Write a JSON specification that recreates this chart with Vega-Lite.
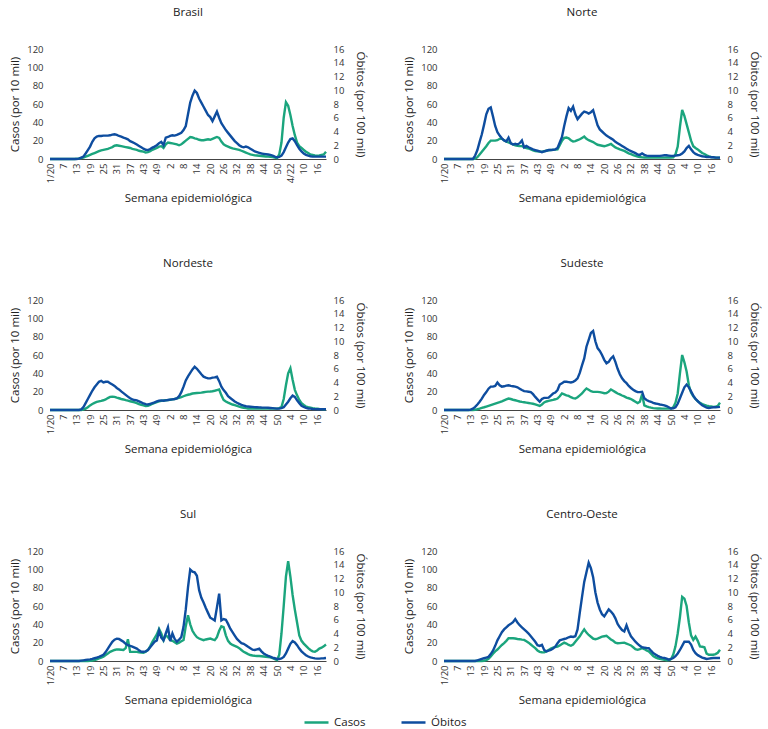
{
"$schema":"https://vega.github.io/schema/vega-lite/v6.json",
"background":"white",
"padding":{"left":9,"top":6,"right":2,"bottom":0},
"data":{"values":[
{"r":"BR","w":0,"c":0,"o":0},{"r":"BR","w":1,"c":0,"o":0},{"r":"BR","w":2,"c":0,"o":0},{"r":"BR","w":3,"c":0,"o":0},{"r":"BR","w":4,"c":0,"o":0},{"r":"BR","w":5,"c":0,"o":0},{"r":"BR","w":6,"c":0,"o":0},{"r":"BR","w":7,"c":0,"o":0},{"r":"BR","w":8,"c":0,"o":0},{"r":"BR","w":9,"c":0,"o":0},
{"r":"BR","w":10,"c":0,"o":0},{"r":"BR","w":11,"c":0,"o":0},{"r":"BR","w":12,"c":0.2,"o":0},{"r":"BR","w":13,"c":0.5,"o":0.05},{"r":"BR","w":14,"c":1,"o":0.2},{"r":"BR","w":15,"c":1.5,"o":0.35},{"r":"BR","w":16,"c":2.5,"o":0.8},{"r":"BR","w":17,"c":3.5,"o":1.3},{"r":"BR","w":18,"c":4.5,"o":1.8},{"r":"BR","w":19,"c":5.5,"o":2.5},
{"r":"BR","w":20,"c":6.5,"o":3},{"r":"BR","w":21,"c":7.5,"o":3.25},{"r":"BR","w":22,"c":8.5,"o":3.35},{"r":"BR","w":23,"c":9.5,"o":3.35},{"r":"BR","w":24,"c":10,"o":3.4},{"r":"BR","w":25,"c":10.5,"o":3.4},{"r":"BR","w":26,"c":11,"o":3.4},{"r":"BR","w":27,"c":12,"o":3.45},{"r":"BR","w":28,"c":13,"o":3.55},{"r":"BR","w":29,"c":14.5,"o":3.6},
{"r":"BR","w":30,"c":15,"o":3.5},{"r":"BR","w":31,"c":14.5,"o":3.35},{"r":"BR","w":32,"c":14,"o":3.25},{"r":"BR","w":33,"c":13.5,"o":3.1},{"r":"BR","w":34,"c":13,"o":3},{"r":"BR","w":35,"c":12.5,"o":2.85},{"r":"BR","w":36,"c":12,"o":2.6},{"r":"BR","w":37,"c":11,"o":2.45},{"r":"BR","w":38,"c":10.5,"o":2.3},{"r":"BR","w":39,"c":10,"o":2.1},
{"r":"BR","w":40,"c":9,"o":1.9},{"r":"BR","w":41,"c":8.5,"o":1.7},{"r":"BR","w":42,"c":8,"o":1.5},{"r":"BR","w":43,"c":7,"o":1.35},{"r":"BR","w":44,"c":7.5,"o":1.3},{"r":"BR","w":45,"c":8.5,"o":1.45},{"r":"BR","w":46,"c":10,"o":1.65},{"r":"BR","w":47,"c":11,"o":1.8},{"r":"BR","w":48,"c":12,"o":2},{"r":"BR","w":49,"c":13.5,"o":2.3},
{"r":"BR","w":50,"c":14,"o":2.5},{"r":"BR","w":51,"c":12,"o":2},{"r":"BR","w":52,"c":16,"o":3.1},{"r":"BR","w":53,"c":18,"o":3.2},{"r":"BR","w":54,"c":17.5,"o":3.35},{"r":"BR","w":55,"c":17,"o":3.45},{"r":"BR","w":56,"c":16.5,"o":3.4},{"r":"BR","w":57,"c":16,"o":3.5},{"r":"BR","w":58,"c":15,"o":3.65},{"r":"BR","w":59,"c":16,"o":3.8},
{"r":"BR","w":60,"c":18,"o":4.2},{"r":"BR","w":61,"c":20,"o":4.8},{"r":"BR","w":62,"c":22,"o":6.5},{"r":"BR","w":63,"c":24,"o":8.2},{"r":"BR","w":64,"c":23.5,"o":9.2},{"r":"BR","w":65,"c":22.5,"o":9.95},{"r":"BR","w":66,"c":22,"o":9.6},{"r":"BR","w":67,"c":21,"o":8.8},{"r":"BR","w":68,"c":20.5,"o":8.2},{"r":"BR","w":69,"c":20.5,"o":7.6},
{"r":"BR","w":70,"c":21,"o":7},{"r":"BR","w":71,"c":21.5,"o":6.4},{"r":"BR","w":72,"c":21,"o":6.1},{"r":"BR","w":73,"c":22,"o":5.5},{"r":"BR","w":74,"c":23,"o":6.2},{"r":"BR","w":75,"c":24,"o":6.9},{"r":"BR","w":76,"c":23,"o":6},{"r":"BR","w":77,"c":19,"o":5.2},{"r":"BR","w":78,"c":16,"o":4.7},{"r":"BR","w":79,"c":14.5,"o":4.2},
{"r":"BR","w":80,"c":13.5,"o":3.8},{"r":"BR","w":81,"c":12.5,"o":3.4},{"r":"BR","w":82,"c":11.5,"o":3},{"r":"BR","w":83,"c":11,"o":2.6},{"r":"BR","w":84,"c":10.5,"o":2.3},{"r":"BR","w":85,"c":10,"o":2},{"r":"BR","w":86,"c":9,"o":1.8},{"r":"BR","w":87,"c":8,"o":1.7},{"r":"BR","w":88,"c":7,"o":1.8},{"r":"BR","w":89,"c":6,"o":1.7},
{"r":"BR","w":90,"c":5,"o":1.5},{"r":"BR","w":91,"c":4.5,"o":1.3},{"r":"BR","w":92,"c":4,"o":1.1},{"r":"BR","w":93,"c":3.8,"o":1},{"r":"BR","w":94,"c":3.5,"o":0.9},{"r":"BR","w":95,"c":3.2,"o":0.8},{"r":"BR","w":96,"c":3,"o":0.75},{"r":"BR","w":97,"c":2.8,"o":0.7},{"r":"BR","w":98,"c":2.6,"o":0.65},{"r":"BR","w":99,"c":2.4,"o":0.6},
{"r":"BR","w":100,"c":2,"o":0.5},{"r":"BR","w":101,"c":1.5,"o":0.35},{"r":"BR","w":102,"c":1,"o":0.25},{"r":"BR","w":103,"c":5,"o":0.3},{"r":"BR","w":104,"c":18,"o":0.5},{"r":"BR","w":105,"c":45,"o":1},{"r":"BR","w":106,"c":62,"o":1.7},{"r":"BR","w":107,"c":58,"o":2.4},{"r":"BR","w":108,"c":48,"o":2.9},{"r":"BR","w":109,"c":36,"o":3},
{"r":"BR","w":110,"c":26,"o":2.6},{"r":"BR","w":111,"c":18,"o":2},{"r":"BR","w":112,"c":14,"o":1.5},{"r":"BR","w":113,"c":12,"o":1.1},{"r":"BR","w":114,"c":10,"o":0.8},{"r":"BR","w":115,"c":8,"o":0.6},{"r":"BR","w":116,"c":6.5,"o":0.5},{"r":"BR","w":117,"c":5,"o":0.4},{"r":"BR","w":118,"c":4.5,"o":0.35},{"r":"BR","w":119,"c":4,"o":0.35},
{"r":"BR","w":120,"c":3.6,"o":0.35},{"r":"BR","w":121,"c":4,"o":0.35},{"r":"BR","w":122,"c":4.5,"o":0.35},{"r":"BR","w":123,"c":5,"o":0.35},{"r":"BR","w":124,"c":8,"o":0.35},

{"r":"N","w":0,"c":0,"o":0},{"r":"N","w":1,"c":0,"o":0},{"r":"N","w":2,"c":0,"o":0},{"r":"N","w":3,"c":0,"o":0},{"r":"N","w":4,"c":0,"o":0},{"r":"N","w":5,"c":0,"o":0},{"r":"N","w":6,"c":0,"o":0},{"r":"N","w":7,"c":0,"o":0},{"r":"N","w":8,"c":0,"o":0},{"r":"N","w":9,"c":0,"o":0},
{"r":"N","w":10,"c":0,"o":0},{"r":"N","w":11,"c":0,"o":0},{"r":"N","w":12,"c":0,"o":0},{"r":"N","w":13,"c":0,"o":0},{"r":"N","w":14,"c":0.5,"o":0.5},{"r":"N","w":15,"c":2,"o":1.3},{"r":"N","w":16,"c":5,"o":2.5},{"r":"N","w":17,"c":8,"o":3.6},{"r":"N","w":18,"c":11,"o":5},{"r":"N","w":19,"c":14,"o":6.5},
{"r":"N","w":20,"c":17.5,"o":7.3},{"r":"N","w":21,"c":20,"o":7.5},{"r":"N","w":22,"c":20,"o":6.2},{"r":"N","w":23,"c":20,"o":4.8},{"r":"N","w":24,"c":20.5,"o":3.9},{"r":"N","w":25,"c":22,"o":3.4},{"r":"N","w":26,"c":22,"o":3},{"r":"N","w":27,"c":20.5,"o":2.7},{"r":"N","w":28,"c":19,"o":2.55},{"r":"N","w":29,"c":18,"o":3.1},
{"r":"N","w":30,"c":17,"o":2.3},{"r":"N","w":31,"c":16,"o":2.1},{"r":"N","w":32,"c":15,"o":2.2},{"r":"N","w":33,"c":14.5,"o":2.1},{"r":"N","w":34,"c":14,"o":2.3},{"r":"N","w":35,"c":14,"o":2.7},{"r":"N","w":36,"c":13,"o":1.7},{"r":"N","w":37,"c":12,"o":1.9},{"r":"N","w":38,"c":11.5,"o":1.7},{"r":"N","w":39,"c":10.5,"o":1.55},
{"r":"N","w":40,"c":9.5,"o":1.4},{"r":"N","w":41,"c":8.7,"o":1.3},{"r":"N","w":42,"c":8.3,"o":1.2},{"r":"N","w":43,"c":8,"o":1.1},{"r":"N","w":44,"c":8,"o":1},{"r":"N","w":45,"c":8.5,"o":1.1},{"r":"N","w":46,"c":9,"o":1.2},{"r":"N","w":47,"c":9.5,"o":1.3},{"r":"N","w":48,"c":9.8,"o":1.3},{"r":"N","w":49,"c":10,"o":1.35},
{"r":"N","w":50,"c":10.2,"o":1.4},{"r":"N","w":51,"c":10.5,"o":1.6},{"r":"N","w":52,"c":15,"o":2.4},{"r":"N","w":53,"c":20,"o":3.2},{"r":"N","w":54,"c":23,"o":4.8},{"r":"N","w":55,"c":23.5,"o":6.2},{"r":"N","w":56,"c":22.5,"o":7.4},{"r":"N","w":57,"c":20.5,"o":7},{"r":"N","w":58,"c":19,"o":7.6},{"r":"N","w":59,"c":19.5,"o":6.5},
{"r":"N","w":60,"c":20.5,"o":5.8},{"r":"N","w":61,"c":21.5,"o":6.2},{"r":"N","w":62,"c":23,"o":6.6},{"r":"N","w":63,"c":24.5,"o":6.9},{"r":"N","w":64,"c":22,"o":6.8},{"r":"N","w":65,"c":20.5,"o":6.6},{"r":"N","w":66,"c":19.5,"o":6.8},{"r":"N","w":67,"c":18.5,"o":7.1},{"r":"N","w":68,"c":17,"o":6},{"r":"N","w":69,"c":15.5,"o":4.9},
{"r":"N","w":70,"c":15,"o":4.3},{"r":"N","w":71,"c":14.5,"o":4},{"r":"N","w":72,"c":14,"o":3.7},{"r":"N","w":73,"c":14.5,"o":3.4},{"r":"N","w":74,"c":15.5,"o":3.2},{"r":"N","w":75,"c":16.4,"o":3},{"r":"N","w":76,"c":14.5,"o":2.8},{"r":"N","w":77,"c":12.7,"o":2.5},{"r":"N","w":78,"c":11.5,"o":2.3},{"r":"N","w":79,"c":10.5,"o":2.1},
{"r":"N","w":80,"c":9.8,"o":1.9},{"r":"N","w":81,"c":8.8,"o":1.7},{"r":"N","w":82,"c":7.5,"o":1.5},{"r":"N","w":83,"c":6.2,"o":1.3},{"r":"N","w":84,"c":5.2,"o":1.15},{"r":"N","w":85,"c":4.2,"o":1},{"r":"N","w":86,"c":3.3,"o":0.85},{"r":"N","w":87,"c":2.6,"o":0.65},{"r":"N","w":88,"c":2.2,"o":0.6},{"r":"N","w":89,"c":1.8,"o":0.8},
{"r":"N","w":90,"c":1.7,"o":0.6},{"r":"N","w":91,"c":1.6,"o":0.5},{"r":"N","w":92,"c":1.5,"o":0.45},{"r":"N","w":93,"c":1.5,"o":0.45},{"r":"N","w":94,"c":1.5,"o":0.45},{"r":"N","w":95,"c":1.5,"o":0.45},{"r":"N","w":96,"c":1.5,"o":0.45},{"r":"N","w":97,"c":1.5,"o":0.45},{"r":"N","w":98,"c":1.5,"o":0.5},{"r":"N","w":99,"c":1.5,"o":0.55},
{"r":"N","w":100,"c":1.6,"o":0.55},{"r":"N","w":101,"c":1.6,"o":0.5},{"r":"N","w":102,"c":1.7,"o":0.45},{"r":"N","w":103,"c":1.8,"o":0.45},{"r":"N","w":104,"c":5,"o":0.5},{"r":"N","w":105,"c":13.5,"o":0.55},{"r":"N","w":106,"c":35,"o":0.6},{"r":"N","w":107,"c":53.5,"o":0.8},{"r":"N","w":108,"c":47,"o":1.1},{"r":"N","w":109,"c":38,"o":1.6},
{"r":"N","w":110,"c":29,"o":1.9},{"r":"N","w":111,"c":20,"o":1.4},{"r":"N","w":112,"c":14,"o":1},{"r":"N","w":113,"c":12,"o":0.75},{"r":"N","w":114,"c":10.5,"o":0.6},{"r":"N","w":115,"c":8.5,"o":0.5},{"r":"N","w":116,"c":6.5,"o":0.4},{"r":"N","w":117,"c":5.5,"o":0.35},{"r":"N","w":118,"c":4,"o":0.3},{"r":"N","w":119,"c":2.8,"o":0.3},
{"r":"N","w":120,"c":2.2,"o":0.25},{"r":"N","w":121,"c":1.8,"o":0.25},{"r":"N","w":122,"c":1.6,"o":0.2},{"r":"N","w":123,"c":1.5,"o":0.2},{"r":"N","w":124,"c":1.5,"o":0.2},

{"r":"NE","w":0,"c":0,"o":0},{"r":"NE","w":1,"c":0,"o":0},{"r":"NE","w":2,"c":0,"o":0},{"r":"NE","w":3,"c":0,"o":0},{"r":"NE","w":4,"c":0,"o":0},{"r":"NE","w":5,"c":0,"o":0},{"r":"NE","w":6,"c":0,"o":0},{"r":"NE","w":7,"c":0,"o":0},{"r":"NE","w":8,"c":0,"o":0},{"r":"NE","w":9,"c":0,"o":0},
{"r":"NE","w":10,"c":0,"o":0},{"r":"NE","w":11,"c":0,"o":0},{"r":"NE","w":12,"c":0,"o":0},{"r":"NE","w":13,"c":0,"o":0},{"r":"NE","w":14,"c":0,"o":0.1},{"r":"NE","w":15,"c":0.5,"o":0.4},{"r":"NE","w":16,"c":1.5,"o":1},{"r":"NE","w":17,"c":3,"o":1.6},{"r":"NE","w":18,"c":5,"o":2.2},{"r":"NE","w":19,"c":6.5,"o":2.8},
{"r":"NE","w":20,"c":7.8,"o":3.3},{"r":"NE","w":21,"c":8.8,"o":3.7},{"r":"NE","w":22,"c":9.5,"o":4.1},{"r":"NE","w":23,"c":10,"o":4.25},{"r":"NE","w":24,"c":10.6,"o":4},{"r":"NE","w":25,"c":11.5,"o":4.1},{"r":"NE","w":26,"c":13,"o":4.1},{"r":"NE","w":27,"c":14.3,"o":3.9},{"r":"NE","w":28,"c":14.5,"o":3.7},{"r":"NE","w":29,"c":14.3,"o":3.5},
{"r":"NE","w":30,"c":13.5,"o":3.2},{"r":"NE","w":31,"c":12.8,"o":3},{"r":"NE","w":32,"c":12,"o":2.7},{"r":"NE","w":33,"c":11.5,"o":2.45},{"r":"NE","w":34,"c":10.8,"o":2.2},{"r":"NE","w":35,"c":10.3,"o":1.95},{"r":"NE","w":36,"c":9.5,"o":1.7},{"r":"NE","w":37,"c":9,"o":1.55},{"r":"NE","w":38,"c":8.3,"o":1.45},{"r":"NE","w":39,"c":7.5,"o":1.4},
{"r":"NE","w":40,"c":6.3,"o":1.25},{"r":"NE","w":41,"c":5.5,"o":1.1},{"r":"NE","w":42,"c":5,"o":0.95},{"r":"NE","w":43,"c":4.2,"o":0.85},{"r":"NE","w":44,"c":4.5,"o":0.8},{"r":"NE","w":45,"c":5.5,"o":0.9},{"r":"NE","w":46,"c":6.8,"o":1},{"r":"NE","w":47,"c":7.8,"o":1.1},{"r":"NE","w":48,"c":8.7,"o":1.25},{"r":"NE","w":49,"c":9.4,"o":1.35},
{"r":"NE","w":50,"c":10,"o":1.4},{"r":"NE","w":51,"c":10.3,"o":1.35},{"r":"NE","w":52,"c":10.6,"o":1.4},{"r":"NE","w":53,"c":10.8,"o":1.45},{"r":"NE","w":54,"c":11.2,"o":1.5},{"r":"NE","w":55,"c":11.6,"o":1.55},{"r":"NE","w":56,"c":12,"o":1.6},{"r":"NE","w":57,"c":12.6,"o":1.7},{"r":"NE","w":58,"c":13.2,"o":2},{"r":"NE","w":59,"c":14,"o":2.6},
{"r":"NE","w":60,"c":15,"o":3.4},{"r":"NE","w":61,"c":16,"o":4.3},{"r":"NE","w":62,"c":16.6,"o":4.9},{"r":"NE","w":63,"c":17.2,"o":5.4},{"r":"NE","w":64,"c":18,"o":5.9},{"r":"NE","w":65,"c":18.3,"o":6.3},{"r":"NE","w":66,"c":18.5,"o":6},{"r":"NE","w":67,"c":18.7,"o":5.6},{"r":"NE","w":68,"c":19,"o":5.2},{"r":"NE","w":69,"c":19.4,"o":4.85},
{"r":"NE","w":70,"c":19.8,"o":4.7},{"r":"NE","w":71,"c":20,"o":4.6},{"r":"NE","w":72,"c":20.2,"o":4.6},{"r":"NE","w":73,"c":20.5,"o":4.7},{"r":"NE","w":74,"c":21,"o":4.75},{"r":"NE","w":75,"c":21.7,"o":4.85},{"r":"NE","w":76,"c":22.4,"o":4.2},{"r":"NE","w":77,"c":16,"o":3.4},{"r":"NE","w":78,"c":11,"o":2.9},{"r":"NE","w":79,"c":9.2,"o":2.5},
{"r":"NE","w":80,"c":8,"o":2},{"r":"NE","w":81,"c":7,"o":1.75},{"r":"NE","w":82,"c":6,"o":1.5},{"r":"NE","w":83,"c":5.2,"o":1.25},{"r":"NE","w":84,"c":4.4,"o":1.05},{"r":"NE","w":85,"c":3.6,"o":0.9},{"r":"NE","w":86,"c":3,"o":0.75},{"r":"NE","w":87,"c":2.5,"o":0.65},{"r":"NE","w":88,"c":2,"o":0.55},{"r":"NE","w":89,"c":1.6,"o":0.5},
{"r":"NE","w":90,"c":1.5,"o":0.48},{"r":"NE","w":91,"c":1.5,"o":0.45},{"r":"NE","w":92,"c":1.5,"o":0.42},{"r":"NE","w":93,"c":1.5,"o":0.4},{"r":"NE","w":94,"c":1.5,"o":0.38},{"r":"NE","w":95,"c":1.5,"o":0.36},{"r":"NE","w":96,"c":1.5,"o":0.35},{"r":"NE","w":97,"c":1.5,"o":0.34},{"r":"NE","w":98,"c":1.5,"o":0.32},{"r":"NE","w":99,"c":1.5,"o":0.3},
{"r":"NE","w":100,"c":1.5,"o":0.27},{"r":"NE","w":101,"c":1.5,"o":0.24},{"r":"NE","w":102,"c":1.5,"o":0.2},{"r":"NE","w":103,"c":2,"o":0.22},{"r":"NE","w":104,"c":3.3,"o":0.28},{"r":"NE","w":105,"c":12,"o":0.4},{"r":"NE","w":106,"c":27,"o":0.8},{"r":"NE","w":107,"c":40,"o":1.2},{"r":"NE","w":108,"c":45.5,"o":1.7},{"r":"NE","w":109,"c":33,"o":2.1},
{"r":"NE","w":110,"c":22,"o":1.9},{"r":"NE","w":111,"c":16,"o":1.4},{"r":"NE","w":112,"c":11,"o":1},{"r":"NE","w":113,"c":7.5,"o":0.6},{"r":"NE","w":114,"c":5.5,"o":0.44},{"r":"NE","w":115,"c":3.8,"o":0.3},{"r":"NE","w":116,"c":3,"o":0.22},{"r":"NE","w":117,"c":2.5,"o":0.2},{"r":"NE","w":118,"c":2,"o":0.15},{"r":"NE","w":119,"c":1.7,"o":0.12},
{"r":"NE","w":120,"c":1.5,"o":0.1},{"r":"NE","w":121,"c":1.2,"o":0.1},{"r":"NE","w":122,"c":1,"o":0.1},{"r":"NE","w":123,"c":0.8,"o":0.1},{"r":"NE","w":124,"c":0.7,"o":0.1},

{"r":"SE","w":0,"c":0,"o":0},{"r":"SE","w":1,"c":0,"o":0},{"r":"SE","w":2,"c":0,"o":0},{"r":"SE","w":3,"c":0,"o":0},{"r":"SE","w":4,"c":0,"o":0},{"r":"SE","w":5,"c":0,"o":0},{"r":"SE","w":6,"c":0,"o":0},{"r":"SE","w":7,"c":0,"o":0},{"r":"SE","w":8,"c":0,"o":0},{"r":"SE","w":9,"c":0,"o":0},
{"r":"SE","w":10,"c":0,"o":0},{"r":"SE","w":11,"c":0,"o":0},{"r":"SE","w":12,"c":0,"o":0.05},{"r":"SE","w":13,"c":0,"o":0.2},{"r":"SE","w":14,"c":0.3,"o":0.45},{"r":"SE","w":15,"c":0.8,"o":0.8},{"r":"SE","w":16,"c":1.5,"o":1.2},{"r":"SE","w":17,"c":2.3,"o":1.66},{"r":"SE","w":18,"c":3,"o":2.2},{"r":"SE","w":19,"c":3.8,"o":2.6},
{"r":"SE","w":20,"c":4.6,"o":3.1},{"r":"SE","w":21,"c":5.4,"o":3.4},{"r":"SE","w":22,"c":6.2,"o":3.4},{"r":"SE","w":23,"c":7,"o":3.5},{"r":"SE","w":24,"c":7.8,"o":4},{"r":"SE","w":25,"c":8.6,"o":3.6},{"r":"SE","w":26,"c":9.5,"o":3.4},{"r":"SE","w":27,"c":10.5,"o":3.45},{"r":"SE","w":28,"c":11.5,"o":3.55},{"r":"SE","w":29,"c":12.5,"o":3.6},
{"r":"SE","w":30,"c":12,"o":3.5},{"r":"SE","w":31,"c":11.2,"o":3.45},{"r":"SE","w":32,"c":10.6,"o":3.4},{"r":"SE","w":33,"c":10,"o":3.3},{"r":"SE","w":34,"c":9.3,"o":3.1},{"r":"SE","w":35,"c":8.8,"o":2.9},{"r":"SE","w":36,"c":8.4,"o":2.75},{"r":"SE","w":37,"c":8,"o":2.7},{"r":"SE","w":38,"c":7.6,"o":2.65},{"r":"SE","w":39,"c":7.2,"o":2.6},
{"r":"SE","w":40,"c":6.8,"o":2.3},{"r":"SE","w":41,"c":6.2,"o":1.9},{"r":"SE","w":42,"c":5.3,"o":1.55},{"r":"SE","w":43,"c":4.4,"o":1.2},{"r":"SE","w":44,"c":6,"o":1.6},{"r":"SE","w":45,"c":8.2,"o":1.76},{"r":"SE","w":46,"c":9.3,"o":1.76},{"r":"SE","w":47,"c":10,"o":1.8},{"r":"SE","w":48,"c":10.5,"o":2.1},{"r":"SE","w":49,"c":11,"o":2.4},
{"r":"SE","w":50,"c":11.7,"o":2.55},{"r":"SE","w":51,"c":12.5,"o":2.9},{"r":"SE","w":52,"c":15,"o":3.7},{"r":"SE","w":53,"c":18,"o":3.9},{"r":"SE","w":54,"c":17,"o":4.1},{"r":"SE","w":55,"c":16,"o":4.1},{"r":"SE","w":56,"c":15.4,"o":4.05},{"r":"SE","w":57,"c":14,"o":4},{"r":"SE","w":58,"c":13,"o":4.1},{"r":"SE","w":59,"c":12.5,"o":4.3},
{"r":"SE","w":60,"c":14,"o":4.6},{"r":"SE","w":61,"c":16,"o":5.4},{"r":"SE","w":62,"c":18,"o":6.5},{"r":"SE","w":63,"c":21,"o":7.5},{"r":"SE","w":64,"c":23.5,"o":9.2},{"r":"SE","w":65,"c":22,"o":10.2},{"r":"SE","w":66,"c":20.5,"o":11.2},{"r":"SE","w":67,"c":19.8,"o":11.5},{"r":"SE","w":68,"c":19.8,"o":10},{"r":"SE","w":69,"c":19.8,"o":9},
{"r":"SE","w":70,"c":19.5,"o":8.6},{"r":"SE","w":71,"c":19,"o":8},{"r":"SE","w":72,"c":18.3,"o":7.3},{"r":"SE","w":73,"c":18.5,"o":6.8},{"r":"SE","w":74,"c":20,"o":7},{"r":"SE","w":75,"c":22.4,"o":7.5},{"r":"SE","w":76,"c":21,"o":7.8},{"r":"SE","w":77,"c":19.5,"o":7},{"r":"SE","w":78,"c":18,"o":6},{"r":"SE","w":79,"c":17,"o":5.2},
{"r":"SE","w":80,"c":15.8,"o":4.6},{"r":"SE","w":81,"c":14.8,"o":4.2},{"r":"SE","w":82,"c":13.5,"o":3.9},{"r":"SE","w":83,"c":12.8,"o":3.5},{"r":"SE","w":84,"c":12,"o":3.2},{"r":"SE","w":85,"c":10.5,"o":2.95},{"r":"SE","w":86,"c":9,"o":2.75},{"r":"SE","w":87,"c":7.5,"o":2.6},{"r":"SE","w":88,"c":9,"o":2.6},{"r":"SE","w":89,"c":17,"o":2.65},
{"r":"SE","w":90,"c":5.1,"o":1.7},{"r":"SE","w":91,"c":4,"o":1.45},{"r":"SE","w":92,"c":3.2,"o":1.3},{"r":"SE","w":93,"c":2.5,"o":1.2},{"r":"SE","w":94,"c":2,"o":1.05},{"r":"SE","w":95,"c":1.8,"o":0.95},{"r":"SE","w":96,"c":1.7,"o":0.88},{"r":"SE","w":97,"c":1.6,"o":0.8},{"r":"SE","w":98,"c":1.5,"o":0.75},{"r":"SE","w":99,"c":1.5,"o":0.68},
{"r":"SE","w":100,"c":1.5,"o":0.55},{"r":"SE","w":101,"c":1.5,"o":0.4},{"r":"SE","w":102,"c":1.5,"o":0.22},{"r":"SE","w":103,"c":3,"o":0.25},{"r":"SE","w":104,"c":8,"o":0.4},{"r":"SE","w":105,"c":18,"o":0.9},{"r":"SE","w":106,"c":40,"o":1.7},{"r":"SE","w":107,"c":60,"o":2.5},{"r":"SE","w":108,"c":52,"o":3.3},{"r":"SE","w":109,"c":42,"o":3.7},
{"r":"SE","w":110,"c":27,"o":3.3},{"r":"SE","w":111,"c":19,"o":2.7},{"r":"SE","w":112,"c":15,"o":2.1},{"r":"SE","w":113,"c":12,"o":1.6},{"r":"SE","w":114,"c":9.5,"o":1.3},{"r":"SE","w":115,"c":8,"o":0.95},{"r":"SE","w":116,"c":6.5,"o":0.7},{"r":"SE","w":117,"c":5.5,"o":0.5},{"r":"SE","w":118,"c":4.8,"o":0.35},{"r":"SE","w":119,"c":4.2,"o":0.3},
{"r":"SE","w":120,"c":3.8,"o":0.35},{"r":"SE","w":121,"c":3.4,"o":0.4},{"r":"SE","w":122,"c":3.5,"o":0.4},{"r":"SE","w":123,"c":4.5,"o":0.42},{"r":"SE","w":124,"c":8,"o":0.45},

{"r":"S","w":0,"c":0,"o":0},{"r":"S","w":1,"c":0,"o":0},{"r":"S","w":2,"c":0,"o":0},{"r":"S","w":3,"c":0,"o":0},{"r":"S","w":4,"c":0,"o":0},{"r":"S","w":5,"c":0,"o":0},{"r":"S","w":6,"c":0,"o":0},{"r":"S","w":7,"c":0,"o":0},{"r":"S","w":8,"c":0,"o":0},{"r":"S","w":9,"c":0,"o":0},
{"r":"S","w":10,"c":0,"o":0},{"r":"S","w":11,"c":0,"o":0},{"r":"S","w":12,"c":0,"o":0},{"r":"S","w":13,"c":0,"o":0},{"r":"S","w":14,"c":0,"o":0.05},{"r":"S","w":15,"c":0,"o":0.1},{"r":"S","w":16,"c":0,"o":0.15},{"r":"S","w":17,"c":0,"o":0.2},{"r":"S","w":18,"c":0.2,"o":0.24},{"r":"S","w":19,"c":0.5,"o":0.3},
{"r":"S","w":20,"c":1,"o":0.4},{"r":"S","w":21,"c":1.8,"o":0.5},{"r":"S","w":22,"c":2.8,"o":0.6},{"r":"S","w":23,"c":3.8,"o":0.75},{"r":"S","w":24,"c":4.7,"o":0.9},{"r":"S","w":25,"c":6.5,"o":1.3},{"r":"S","w":26,"c":8.2,"o":1.8},{"r":"S","w":27,"c":10,"o":2.3},{"r":"S","w":28,"c":11,"o":2.8},{"r":"S","w":29,"c":12,"o":3.1},
{"r":"S","w":30,"c":12.6,"o":3.25},{"r":"S","w":31,"c":12.5,"o":3.2},{"r":"S","w":32,"c":12.3,"o":3},{"r":"S","w":33,"c":12,"o":2.8},{"r":"S","w":34,"c":14,"o":2.5},{"r":"S","w":35,"c":23.8,"o":2.3},{"r":"S","w":36,"c":10,"o":2.2},{"r":"S","w":37,"c":10,"o":2.1},{"r":"S","w":38,"c":10,"o":1.95},{"r":"S","w":39,"c":10,"o":1.8},
{"r":"S","w":40,"c":9.5,"o":1.55},{"r":"S","w":41,"c":9.2,"o":1.35},{"r":"S","w":42,"c":9,"o":1.34},{"r":"S","w":43,"c":10,"o":1.4},{"r":"S","w":44,"c":12,"o":1.6},{"r":"S","w":45,"c":16,"o":2},{"r":"S","w":46,"c":21,"o":2.4},{"r":"S","w":47,"c":25,"o":2.8},{"r":"S","w":48,"c":29,"o":3},{"r":"S","w":49,"c":35,"o":4.4},
{"r":"S","w":50,"c":30,"o":3.4},{"r":"S","w":51,"c":22.7,"o":3},{"r":"S","w":52,"c":28,"o":4},{"r":"S","w":53,"c":26,"o":4.9},{"r":"S","w":54,"c":23,"o":2.9},{"r":"S","w":55,"c":22,"o":4},{"r":"S","w":56,"c":20.5,"o":3.2},{"r":"S","w":57,"c":19,"o":2.8},{"r":"S","w":58,"c":20,"o":3.1},{"r":"S","w":59,"c":21.5,"o":3.5},
{"r":"S","w":60,"c":23,"o":5},{"r":"S","w":61,"c":38,"o":7.5},{"r":"S","w":62,"c":50,"o":10.7},{"r":"S","w":63,"c":40,"o":13.3},{"r":"S","w":64,"c":33,"o":13},{"r":"S","w":65,"c":29,"o":12.9},{"r":"S","w":66,"c":26,"o":12.4},{"r":"S","w":67,"c":24.5,"o":10.3},{"r":"S","w":68,"c":23.5,"o":9.2},{"r":"S","w":69,"c":22.7,"o":8.5},
{"r":"S","w":70,"c":23.5,"o":7.7},{"r":"S","w":71,"c":24,"o":7},{"r":"S","w":72,"c":24.5,"o":6.3},{"r":"S","w":73,"c":23.5,"o":6.1},{"r":"S","w":74,"c":22.7,"o":5.9},{"r":"S","w":75,"c":26,"o":7.8},{"r":"S","w":76,"c":33,"o":9.8},{"r":"S","w":77,"c":38,"o":5.9},{"r":"S","w":78,"c":37,"o":6.1},{"r":"S","w":79,"c":28,"o":6},
{"r":"S","w":80,"c":22,"o":5.4},{"r":"S","w":81,"c":19,"o":4.7},{"r":"S","w":82,"c":17.5,"o":4.2},{"r":"S","w":83,"c":16.5,"o":3.7},{"r":"S","w":84,"c":15.5,"o":3.2},{"r":"S","w":85,"c":14,"o":2.9},{"r":"S","w":86,"c":12,"o":2.6},{"r":"S","w":87,"c":10,"o":2.5},{"r":"S","w":88,"c":8.8,"o":2.3},{"r":"S","w":89,"c":7.5,"o":2.06},
{"r":"S","w":90,"c":6.5,"o":1.85},{"r":"S","w":91,"c":6,"o":1.65},{"r":"S","w":92,"c":5.7,"o":1.6},{"r":"S","w":93,"c":5.5,"o":1.7},{"r":"S","w":94,"c":5.4,"o":1.8},{"r":"S","w":95,"c":5.2,"o":1.4},{"r":"S","w":96,"c":4.9,"o":1.1},{"r":"S","w":97,"c":4.6,"o":0.9},{"r":"S","w":98,"c":4.3,"o":0.75},{"r":"S","w":99,"c":4,"o":0.62},
{"r":"S","w":100,"c":3,"o":0.5},{"r":"S","w":101,"c":2,"o":0.4},{"r":"S","w":102,"c":1,"o":0.3},{"r":"S","w":103,"c":7,"o":0.3},{"r":"S","w":104,"c":30,"o":0.38},{"r":"S","w":105,"c":60,"o":0.6},{"r":"S","w":106,"c":92,"o":1.1},{"r":"S","w":107,"c":109,"o":1.8},{"r":"S","w":108,"c":92,"o":2.5},{"r":"S","w":109,"c":72,"o":2.9},
{"r":"S","w":110,"c":56,"o":2.7},{"r":"S","w":111,"c":42,"o":2.3},{"r":"S","w":112,"c":28,"o":1.8},{"r":"S","w":113,"c":22,"o":1.4},{"r":"S","w":114,"c":19,"o":1.1},{"r":"S","w":115,"c":16.5,"o":0.85},{"r":"S","w":116,"c":14,"o":0.65},{"r":"S","w":117,"c":12,"o":0.53},{"r":"S","w":118,"c":10.5,"o":0.45},{"r":"S","w":119,"c":10,"o":0.38},
{"r":"S","w":120,"c":11.5,"o":0.34},{"r":"S","w":121,"c":13.5,"o":0.35},{"r":"S","w":122,"c":14.5,"o":0.38},{"r":"S","w":123,"c":16,"o":0.4},{"r":"S","w":124,"c":18,"o":0.43},

{"r":"CO","w":0,"c":0,"o":0},{"r":"CO","w":1,"c":0,"o":0},{"r":"CO","w":2,"c":0,"o":0},{"r":"CO","w":3,"c":0,"o":0},{"r":"CO","w":4,"c":0,"o":0},{"r":"CO","w":5,"c":0,"o":0},{"r":"CO","w":6,"c":0,"o":0},{"r":"CO","w":7,"c":0,"o":0},{"r":"CO","w":8,"c":0,"o":0},{"r":"CO","w":9,"c":0,"o":0},
{"r":"CO","w":10,"c":0,"o":0},{"r":"CO","w":11,"c":0,"o":0},{"r":"CO","w":12,"c":0,"o":0},{"r":"CO","w":13,"c":0,"o":0},{"r":"CO","w":14,"c":0,"o":0},{"r":"CO","w":15,"c":0,"o":0.1},{"r":"CO","w":16,"c":0,"o":0.2},{"r":"CO","w":17,"c":0,"o":0.3},{"r":"CO","w":18,"c":0.3,"o":0.4},{"r":"CO","w":19,"c":1,"o":0.5},
{"r":"CO","w":20,"c":2.5,"o":0.6},{"r":"CO","w":21,"c":5,"o":1},{"r":"CO","w":22,"c":8,"o":1.5},{"r":"CO","w":23,"c":10.5,"o":2.2},{"r":"CO","w":24,"c":12.5,"o":3},{"r":"CO","w":25,"c":15,"o":3.6},{"r":"CO","w":26,"c":17.5,"o":4.2},{"r":"CO","w":27,"c":19.5,"o":4.6},{"r":"CO","w":28,"c":22,"o":4.9},{"r":"CO","w":29,"c":24.8,"o":5.2},
{"r":"CO","w":30,"c":25,"o":5.4},{"r":"CO","w":31,"c":24.8,"o":5.65},{"r":"CO","w":32,"c":24.5,"o":6.1},{"r":"CO","w":33,"c":24,"o":5.6},{"r":"CO","w":34,"c":23.8,"o":5.2},{"r":"CO","w":35,"c":23.3,"o":4.9},{"r":"CO","w":36,"c":23,"o":4.6},{"r":"CO","w":37,"c":21.5,"o":4.3},{"r":"CO","w":38,"c":20,"o":4},{"r":"CO","w":39,"c":18,"o":3.6},
{"r":"CO","w":40,"c":16,"o":3.2},{"r":"CO","w":41,"c":14,"o":2.8},{"r":"CO","w":42,"c":11.5,"o":2.3},{"r":"CO","w":43,"c":10,"o":2.2},{"r":"CO","w":44,"c":9.5,"o":2.35},{"r":"CO","w":45,"c":9.4,"o":1.6},{"r":"CO","w":46,"c":10.5,"o":1.4},{"r":"CO","w":47,"c":12,"o":1.5},{"r":"CO","w":48,"c":13.5,"o":1.6},{"r":"CO","w":49,"c":14.5,"o":1.8},
{"r":"CO","w":50,"c":15.3,"o":2.1},{"r":"CO","w":51,"c":15.8,"o":2.6},{"r":"CO","w":52,"c":17,"o":3},{"r":"CO","w":53,"c":18.5,"o":3.1},{"r":"CO","w":54,"c":20,"o":3.2},{"r":"CO","w":55,"c":19,"o":3.3},{"r":"CO","w":56,"c":17.5,"o":3.45},{"r":"CO","w":57,"c":16.6,"o":3.55},{"r":"CO","w":58,"c":18,"o":3.5},{"r":"CO","w":59,"c":21,"o":3.6},
{"r":"CO","w":60,"c":24,"o":4.6},{"r":"CO","w":61,"c":27,"o":7},{"r":"CO","w":62,"c":31,"o":9.3},{"r":"CO","w":63,"c":34.5,"o":11.5},{"r":"CO","w":64,"c":31,"o":12.9},{"r":"CO","w":65,"c":28.4,"o":14.3},{"r":"CO","w":66,"c":26.5,"o":13.5},{"r":"CO","w":67,"c":24.5,"o":12.2},{"r":"CO","w":68,"c":23.8,"o":10},{"r":"CO","w":69,"c":24.5,"o":8.5},
{"r":"CO","w":70,"c":25.5,"o":7.5},{"r":"CO","w":71,"c":26.6,"o":6.8},{"r":"CO","w":72,"c":27,"o":6.5},{"r":"CO","w":73,"c":27.4,"o":7},{"r":"CO","w":74,"c":25.5,"o":7.5},{"r":"CO","w":75,"c":23.5,"o":7.2},{"r":"CO","w":76,"c":22,"o":6.8},{"r":"CO","w":77,"c":20,"o":6.2},{"r":"CO","w":78,"c":19.4,"o":5.4},{"r":"CO","w":79,"c":19.5,"o":4.9},
{"r":"CO","w":80,"c":19.8,"o":4.5},{"r":"CO","w":81,"c":20,"o":4.3},{"r":"CO","w":82,"c":19,"o":5.2},{"r":"CO","w":83,"c":18,"o":4.3},{"r":"CO","w":84,"c":17,"o":3.6},{"r":"CO","w":85,"c":15,"o":3.2},{"r":"CO","w":86,"c":13,"o":2.8},{"r":"CO","w":87,"c":12.2,"o":2.5},{"r":"CO","w":88,"c":13,"o":2.2},{"r":"CO","w":89,"c":14,"o":2},
{"r":"CO","w":90,"c":13,"o":1.95},{"r":"CO","w":91,"c":11.5,"o":1.9},{"r":"CO","w":92,"c":10.4,"o":1.87},{"r":"CO","w":93,"c":8,"o":1.5},{"r":"CO","w":94,"c":5.5,"o":1.15},{"r":"CO","w":95,"c":4,"o":0.95},{"r":"CO","w":96,"c":3,"o":0.75},{"r":"CO","w":97,"c":2.3,"o":0.6},{"r":"CO","w":98,"c":1.7,"o":0.5},{"r":"CO","w":99,"c":1.2,"o":0.43},
{"r":"CO","w":100,"c":0.8,"o":0.35},{"r":"CO","w":101,"c":0.7,"o":0.2},{"r":"CO","w":102,"c":2,"o":0.3},{"r":"CO","w":103,"c":7,"o":0.43},{"r":"CO","w":104,"c":16,"o":0.7},{"r":"CO","w":105,"c":30,"o":1.1},{"r":"CO","w":106,"c":48,"o":1.6},{"r":"CO","w":107,"c":70,"o":2.2},{"r":"CO","w":108,"c":68,"o":2.8},{"r":"CO","w":109,"c":60,"o":2.8},
{"r":"CO","w":110,"c":42,"o":2.8},{"r":"CO","w":111,"c":28,"o":2.4},{"r":"CO","w":112,"c":23,"o":1.6},{"r":"CO","w":113,"c":26.6,"o":1.15},{"r":"CO","w":114,"c":22,"o":0.85},{"r":"CO","w":115,"c":16,"o":0.67},{"r":"CO","w":116,"c":15.5,"o":0.5},{"r":"CO","w":117,"c":15,"o":0.4},{"r":"CO","w":118,"c":8,"o":0.3},{"r":"CO","w":119,"c":6.8,"o":0.35},
{"r":"CO","w":120,"c":6.8,"o":0.4},{"r":"CO","w":121,"c":6.8,"o":0.43},{"r":"CO","w":122,"c":7.5,"o":0.43},{"r":"CO","w":123,"c":9,"o":0.43},{"r":"CO","w":124,"c":12.2,"o":0.43}
]},
"columns":2,
"spacing":{"row":52,"column":37},
"concat":[
{"title":"Brasil","transform":[{"filter":"datum.r=='BR'"}],"width":276,"height":110,
 "encoding":{"x":{"field":"w","type":"quantitative","scale":{"domain":[0,124],"nice":false,"zero":false},"axis":{"values":[0,6,12,18,24,30,36,42,48,54,60,66,72,78,84,90,96,102,108,114,120],"labelAngle":-90,"title":"Semana epidemiológica","labelExpr":"datum.value==0?'1/20':datum.value==108?'4/22':datum.value<53?''+(datum.value+1):datum.value<105?''+(datum.value-52):''+(datum.value-104)"}}},
 "layer":[
  {"mark":{"type":"line","strokeWidth":2.4},"encoding":{"y":{"field":"c","type":"quantitative","scale":{"domain":[0,120]},"axis":{"values":[0,20,40,60,80,100,120],"title":"Casos (por 10 mil)"}},"color":{"datum":"Casos","type":"nominal","scale":{"domain":["Casos","Óbitos"],"range":["#1ba57d","#0e4d9f"]},"legend":{"title":null}}}},
  {"mark":{"type":"line","strokeWidth":2.4},"encoding":{"y":{"field":"o","type":"quantitative","scale":{"domain":[0,16]},"axis":{"orient":"right","values":[0,2,4,6,8,10,12,14,16],"title":"Óbitos (por 100 mil)"}},"color":{"datum":"Óbitos","type":"nominal"}}}
 ],
 "resolve":{"scale":{"y":"independent"}}},
{"title":"Norte","transform":[{"filter":"datum.r=='N'"}],"width":276,"height":110,
 "encoding":{"x":{"field":"w","type":"quantitative","scale":{"domain":[0,124],"nice":false,"zero":false},"axis":{"values":[0,6,12,18,24,30,36,42,48,54,60,66,72,78,84,90,96,102,108,114,120],"labelAngle":-90,"title":"Semana epidemiológica","labelExpr":"datum.value==0?'1/20':datum.value<53?''+(datum.value+1):datum.value<105?''+(datum.value-52):''+(datum.value-104)"}}},
 "layer":[
  {"mark":{"type":"line","strokeWidth":2.4},"encoding":{"y":{"field":"c","type":"quantitative","scale":{"domain":[0,120]},"axis":{"values":[0,20,40,60,80,100,120],"title":"Casos (por 10 mil)"}},"color":{"datum":"Casos","type":"nominal"}}},
  {"mark":{"type":"line","strokeWidth":2.4},"encoding":{"y":{"field":"o","type":"quantitative","scale":{"domain":[0,16]},"axis":{"orient":"right","values":[0,2,4,6,8,10,12,14,16],"title":"Óbitos (por 100 mil)"}},"color":{"datum":"Óbitos","type":"nominal"}}}
 ],
 "resolve":{"scale":{"y":"independent"}}},
{"title":"Nordeste","transform":[{"filter":"datum.r=='NE'"}],"width":276,"height":110,
 "encoding":{"x":{"field":"w","type":"quantitative","scale":{"domain":[0,124],"nice":false,"zero":false},"axis":{"values":[0,6,12,18,24,30,36,42,48,54,60,66,72,78,84,90,96,102,108,114,120],"labelAngle":-90,"title":"Semana epidemiológica","labelExpr":"datum.value==0?'1/20':datum.value<53?''+(datum.value+1):datum.value<105?''+(datum.value-52):''+(datum.value-104)"}}},
 "layer":[
  {"mark":{"type":"line","strokeWidth":2.4},"encoding":{"y":{"field":"c","type":"quantitative","scale":{"domain":[0,120]},"axis":{"values":[0,20,40,60,80,100,120],"title":"Casos (por 10 mil)"}},"color":{"datum":"Casos","type":"nominal"}}},
  {"mark":{"type":"line","strokeWidth":2.4},"encoding":{"y":{"field":"o","type":"quantitative","scale":{"domain":[0,16]},"axis":{"orient":"right","values":[0,2,4,6,8,10,12,14,16],"title":"Óbitos (por 100 mil)"}},"color":{"datum":"Óbitos","type":"nominal"}}}
 ],
 "resolve":{"scale":{"y":"independent"}}},
{"title":"Sudeste","transform":[{"filter":"datum.r=='SE'"}],"width":276,"height":110,
 "encoding":{"x":{"field":"w","type":"quantitative","scale":{"domain":[0,124],"nice":false,"zero":false},"axis":{"values":[0,6,12,18,24,30,36,42,48,54,60,66,72,78,84,90,96,102,108,114,120],"labelAngle":-90,"title":"Semana epidemiológica","labelExpr":"datum.value==0?'1/20':datum.value<53?''+(datum.value+1):datum.value<105?''+(datum.value-52):''+(datum.value-104)"}}},
 "layer":[
  {"mark":{"type":"line","strokeWidth":2.4},"encoding":{"y":{"field":"c","type":"quantitative","scale":{"domain":[0,120]},"axis":{"values":[0,20,40,60,80,100,120],"title":"Casos (por 10 mil)"}},"color":{"datum":"Casos","type":"nominal"}}},
  {"mark":{"type":"line","strokeWidth":2.4},"encoding":{"y":{"field":"o","type":"quantitative","scale":{"domain":[0,16]},"axis":{"orient":"right","values":[0,2,4,6,8,10,12,14,16],"title":"Óbitos (por 100 mil)"}},"color":{"datum":"Óbitos","type":"nominal"}}}
 ],
 "resolve":{"scale":{"y":"independent"}}},
{"title":"Sul","transform":[{"filter":"datum.r=='S'"}],"width":276,"height":110,
 "encoding":{"x":{"field":"w","type":"quantitative","scale":{"domain":[0,124],"nice":false,"zero":false},"axis":{"values":[0,6,12,18,24,30,36,42,48,54,60,66,72,78,84,90,96,102,108,114,120],"labelAngle":-90,"title":"Semana epidemiológica","labelExpr":"datum.value==0?'1/20':datum.value<53?''+(datum.value+1):datum.value<105?''+(datum.value-52):''+(datum.value-104)"}}},
 "layer":[
  {"mark":{"type":"line","strokeWidth":2.4},"encoding":{"y":{"field":"c","type":"quantitative","scale":{"domain":[0,120]},"axis":{"values":[0,20,40,60,80,100,120],"title":"Casos (por 10 mil)"}},"color":{"datum":"Casos","type":"nominal"}}},
  {"mark":{"type":"line","strokeWidth":2.4},"encoding":{"y":{"field":"o","type":"quantitative","scale":{"domain":[0,16]},"axis":{"orient":"right","values":[0,2,4,6,8,10,12,14,16],"title":"Óbitos (por 100 mil)"}},"color":{"datum":"Óbitos","type":"nominal"}}}
 ],
 "resolve":{"scale":{"y":"independent"}}},
{"title":"Centro-Oeste","transform":[{"filter":"datum.r=='CO'"}],"width":276,"height":110,
 "encoding":{"x":{"field":"w","type":"quantitative","scale":{"domain":[0,124],"nice":false,"zero":false},"axis":{"values":[0,6,12,18,24,30,36,42,48,54,60,66,72,78,84,90,96,102,108,114,120],"labelAngle":-90,"title":"Semana epidemiológica","labelExpr":"datum.value==0?'1/20':datum.value<53?''+(datum.value+1):datum.value<105?''+(datum.value-52):''+(datum.value-104)"}}},
 "layer":[
  {"mark":{"type":"line","strokeWidth":2.4},"encoding":{"y":{"field":"c","type":"quantitative","scale":{"domain":[0,120]},"axis":{"values":[0,20,40,60,80,100,120],"title":"Casos (por 10 mil)"}},"color":{"datum":"Casos","type":"nominal"}}},
  {"mark":{"type":"line","strokeWidth":2.4},"encoding":{"y":{"field":"o","type":"quantitative","scale":{"domain":[0,16]},"axis":{"orient":"right","values":[0,2,4,6,8,10,12,14,16],"title":"Óbitos (por 100 mil)"}},"color":{"datum":"Óbitos","type":"nominal"}}}
 ],
 "resolve":{"scale":{"y":"independent"}}}
],
"config":{
 "view":{"stroke":null},
 "font":"Open Sans",
 "axis":{"grid":false,"ticks":false,"labelFont":"Open Sans","titleFont":"Open Sans","labelFontSize":9.5,"titleFontSize":11.5,"titleFontWeight":"normal","labelColor":"#333","titleColor":"#222"},
 "axisY":{"domain":false,"labelPadding":7,"titlePadding":6},
 "axisRight":{"titlePadding":11},
 "axisX":{"domain":true,"domainColor":"#444","domainWidth":1,"labelPadding":4,"titlePadding":10,"labelBaseline":"middle","labelFlush":false,"labelOverlap":false},
 "title":{"font":"Open Sans","fontSize":11.5,"fontWeight":"normal","color":"#222","offset":26,"anchor":"middle"},
 "legend":{"orient":"bottom","direction":"horizontal","offset":2,"layout":{"bottom":{"anchor":"middle"}},"symbolType":"stroke","symbolSize":576,"symbolStrokeWidth":2.5,"labelFont":"Open Sans","labelFontSize":11.5,"labelColor":"#222","columnPadding":30}
}
}
